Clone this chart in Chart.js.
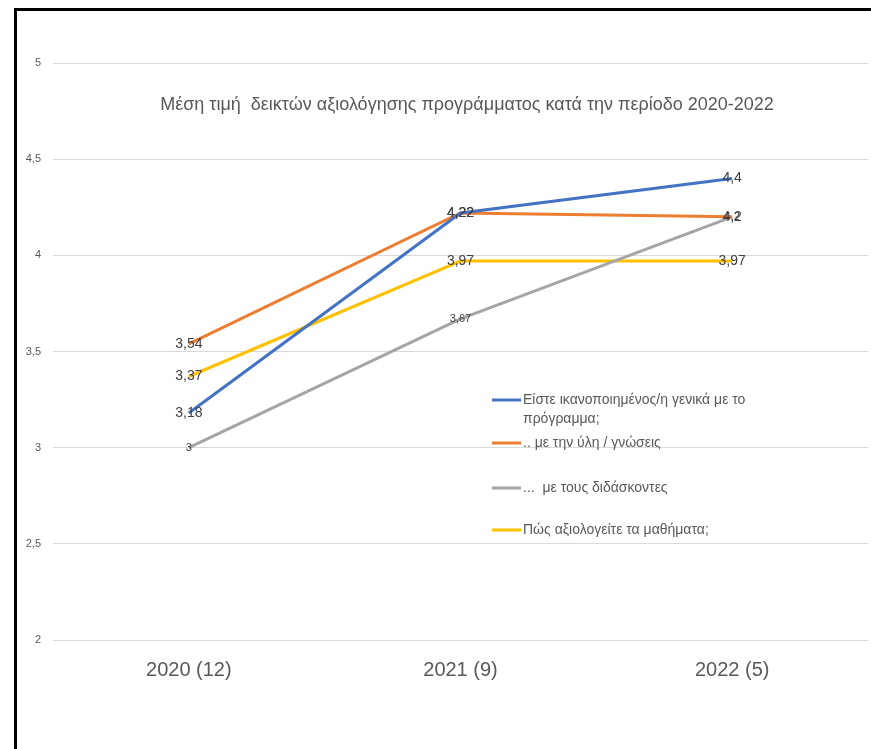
<!DOCTYPE html>
<html>
<head>
<meta charset="utf-8">
<script src="https://cdn.jsdelivr.net/npm/chart.js@4.4.0/dist/chart.umd.min.js"></script>
<style>
  body { margin: 0; background: #fff; }
  #wrap { position: relative; width: 871px; height: 749px; }
  #frame {
    position: absolute; left: 14px; top: 8px; width: 870px; height: 760px;
    border-left: 3px solid #000; border-top: 3px solid #000; pointer-events: none;
  }
</style>
</head>
<body>
<div id="wrap">
  <canvas id="grafico"></canvas>
  <div id="frame"></div>
</div>
<script>
// dados
var categorias = ['2020 (12)', '2021 (9)', '2022 (5)'];
var geral = [3.18, 4.22, 4.4];
var ulh = [3.54, 4.22, 4.2];
var didaskontes = [3, 3.67, 4.2];
var mathimata = [3.37, 3.97, 3.97];
var nomesSeries = [
    ['Είστε ικανοποιημένος/η γενικά με το', 'πρόγραμμα;'],
    ['.. με την ύλη / γνώσεις'],
    ['...  με τους διδάσκοντες'],
    ['Πώς αξιολογείτε τα μαθήματα;']
];
var titulo = 'Μέση τιμή  δεικτών αξιολόγησης προγράμματος κατά την περίοδο 2020-2022';

var cores = ['#4472C4', '#ED7D31', '#A5A5A5', '#FFC000'];
var fonte = '"Liberation Sans", Arial, sans-serif';

function virgula(v) {
    return String(v).replace('.', ',');
}

// rótulos dos pontos (tamanho por série)
var rotulos = {
    id: 'rotulos',
    afterDatasetsDraw: function (chart) {
        var ctx = chart.ctx;
        var ordem = [2, 0, 1, 3];
        ctx.save();
        ctx.textAlign = 'center';
        ctx.textBaseline = 'middle';
        ctx.fillStyle = '#404040';
        ordem.forEach(function (i) {
            var ds = chart.data.datasets[i];
            var meta = chart.getDatasetMeta(i);
            ctx.font = (i == 2 ? '11px ' : '14px ') + fonte;
            meta.data.forEach(function (pt, j) {
                ctx.fillText(virgula(ds.data[j]), pt.x, pt.y);
            });
        });
        ctx.restore();
    }
};

// título e legenda dentro da área do gráfico
var extras = {
    id: 'extras',
    afterDraw: function (chart) {
        var ctx = chart.ctx;
        ctx.save();
        ctx.fillStyle = '#595959';
        ctx.font = '18px ' + fonte;
        ctx.textAlign = 'center';
        ctx.textBaseline = 'middle';
        ctx.fillText(titulo, 467, 105);

        var ys = [400, 443, 488, 530];
        ctx.font = '14px ' + fonte;
        ctx.textAlign = 'left';
        nomesSeries.forEach(function (linhas, i) {
            ctx.strokeStyle = cores[i];
            ctx.lineWidth = 3;
            ctx.beginPath();
            ctx.moveTo(492, ys[i]);
            ctx.lineTo(521, ys[i]);
            ctx.stroke();
            linhas.forEach(function (txt, k) {
                ctx.fillText(txt, 523, ys[i] + k * 19);
            });
        });
        ctx.restore();
    }
};

var series = [geral, ulh, didaskontes, mathimata];

var ctx = document.getElementById('grafico').getContext('2d');
var chart = new Chart(ctx, {
    type: 'line',
    data: {
        labels: categorias,
        datasets: series.map(function (s, i) {
            return {
                label: nomesSeries[i].join(' '),
                data: s,
                borderColor: cores[i],
                backgroundColor: cores[i],
                borderWidth: 3,
                pointRadius: 0,
                tension: 0,
                fill: false
            };
        })
    },
    options: {
        responsive: true,
        maintainAspectRatio: false,
        animation: false,
        layout: { padding: { left: 0, right: 3, top: 63, bottom: 0 } },
        plugins: {
            legend: { display: false },
            tooltip: { enabled: false },
            title: { display: false }
        },
        scales: {
            x: {
                offset: true,
                grid: { display: false, drawTicks: false },
                border: { display: false },
                ticks: {
                    color: '#595959',
                    font: { family: fonte, size: 20 },
                    padding: 18,
                    maxRotation: 0
                },
                afterFit: function (s) { s.height = 109; }
            },
            y: {
                min: 2,
                max: 5,
                grid: { color: '#d9d9d9', lineWidth: 1, drawTicks: false },
                border: { display: false },
                ticks: {
                    stepSize: 0.5,
                    color: '#595959',
                    font: { family: fonte, size: 11 },
                    padding: 12,
                    callback: function (v) { return virgula(v); }
                },
                afterFit: function (s) { s.width = 53; }
            }
        }
    },
    plugins: [rotulos, extras]
});
</script>
</body>
</html>
